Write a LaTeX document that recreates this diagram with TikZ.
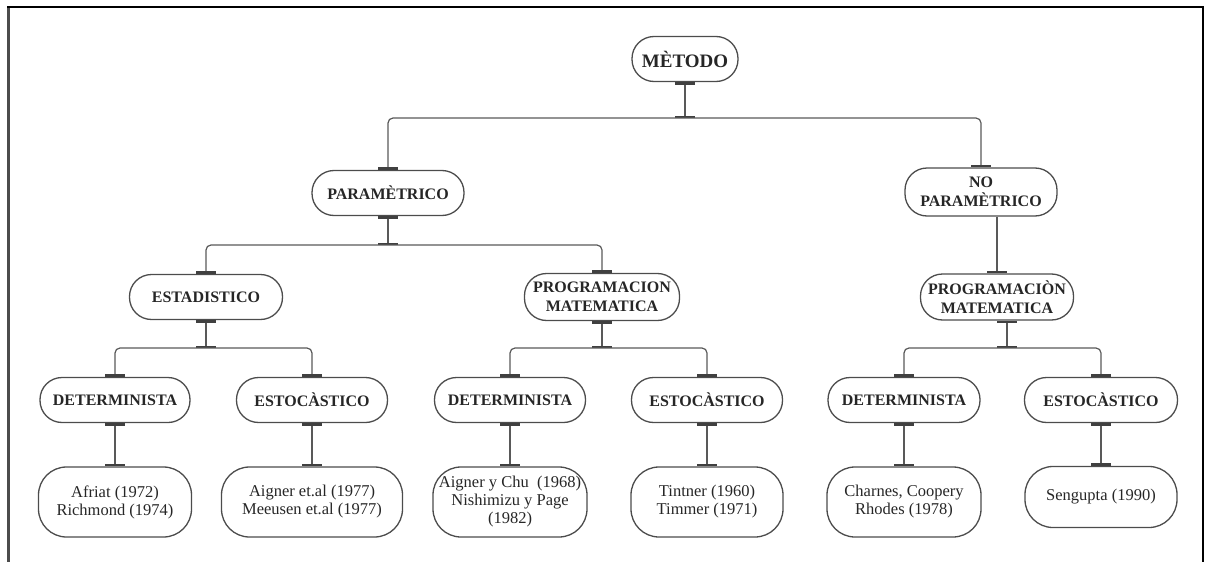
\documentclass[tikz,border=0pt]{standalone}
\usepackage{fontspec}
\setmainfont{Liberation Serif}
\usetikzlibrary{arrows.meta}
\tikzset{
  bartip/.tip={Bar[width=20pt,line width=2.5pt,color=black!75]},
  box/.style={draw=black!70,line width=1.3pt,rectangle,rounded corners=22pt,inner sep=0pt,minimum height=45pt,align=center,text=black!85,font=\bfseries\fontsize{16}{19}\selectfont},
  leaf/.style={box,rounded corners=28pt,minimum height=70pt,font=\fontsize{16.5}{18}\selectfont},
  link/.style={draw=black!65,line width=1.2pt,rounded corners=5pt},
  tick/.style={bartip-bartip}
}
\begin{document}
\begin{tikzpicture}[x=1pt,y=-1pt]
\useasboundingbox (0,0) rectangle (1211,562);
\draw[black!70,line width=3pt] (8,7) -- (8,562);
\draw[black,line width=2pt] (7,7) -- (1203,7) -- (1203,562);

\coordinate (j1) at (684,118);
\coordinate (j2) at (388,245);
\coordinate (j3) at (207,348);
\coordinate (j4) at (602,348);
\coordinate (j5) at (1007,348);

\node[box,minimum width=106pt,font=\bfseries\fontsize{19}{22}\selectfont] (met) at (685,59) {MÈTODO};
\node[box,minimum width=152pt] (par) at (388,193) {PARAMÈTRICO};
\node[box,minimum width=152pt,minimum height=48pt] (nopar) at (981,192) {NO\\PARAMÈTRICO};
\node[box,minimum width=153pt] (est) at (206,297) {ESTADISTICO};
\node[box,minimum width=155pt,minimum height=47pt] (prog) at (602,297) {PROGRAMACION\\MATEMATICA};
\node[box,minimum width=153pt,minimum height=46pt] (progn) at (997,297) {PROGRAMACIÒN\\MATEMATICA};

\node[box,minimum width=150pt] (detA) at (115,400) {DETERMINISTA};
\node[box,minimum width=151pt] (estA) at (312,400) {ESTOCÀSTICO};
\node[box,minimum width=151pt] (detB) at (510,400) {DETERMINISTA};
\node[box,minimum width=151pt] (estB) at (707,400) {ESTOCÀSTICO};
\node[box,minimum width=152pt] (detC) at (904,400) {DETERMINISTA};
\node[box,minimum width=153pt] (estC) at (1101,400) {ESTOCÀSTICO};

\node[leaf,minimum width=153pt] (leafA) at (115,502) {Afriat (1972)\\Richmond (1974)};
\node[leaf,minimum width=181pt] (leafB) at (312,502) {Aigner et.al (1977)\\Meeusen et.al (1977)};
\node[leaf,minimum width=154pt] (leafC) at (510,502) {Aigner y Chu\ \ (1968)\\Nishimizu y Page\\(1982)};
\node[leaf,minimum width=152pt] (leafD) at (707,502) {Tintner (1960)\\Timmer (1971)};
\node[leaf,minimum width=154pt] (leafE) at (904,502) {Charnes, Coopery\\Rhodes (1978)};
\node[leaf,minimum width=152pt,minimum height=61pt] (leafF) at (1101,497) {Sengupta (1990)};

\draw[link,tick] (met.south) -- (met.south |- j1);
\draw[link,tick] (par.north) -- (par.north |- j1) -- (nopar.north |- j1) -- (nopar.north);
\draw[link,tick] (par.south) -- (par.south |- j2);
\draw[link,tick] (est.north) -- (est.north |- j2) -- (prog.north |- j2) -- (prog.north);
\draw[link,-bartip] (progn.north |- nopar.south) -- (progn.north);

\draw[link,tick] (est.south) -- (est.south |- j3);
\draw[link,tick] (detA.north) -- (detA.north |- j3) -- (estA.north |- j3) -- (estA.north);
\draw[link,tick] (prog.south) -- (prog.south |- j4);
\draw[link,tick] (detB.north) -- (detB.north |- j4) -- (estB.north |- j4) -- (estB.north);
\draw[link,tick] ([xshift=10pt]progn.south) -- ([xshift=10pt]progn.south |- j5);
\draw[link,tick] (detC.north) -- (detC.north |- j5) -- (estC.north |- j5) -- (estC.north);

\foreach \a/\b in {detA/leafA,estA/leafB,detB/leafC,estB/leafD,detC/leafE,estC/leafF}
  \draw[link,tick] (\a.south) -- (\b.north);
\end{tikzpicture}
\end{document}
